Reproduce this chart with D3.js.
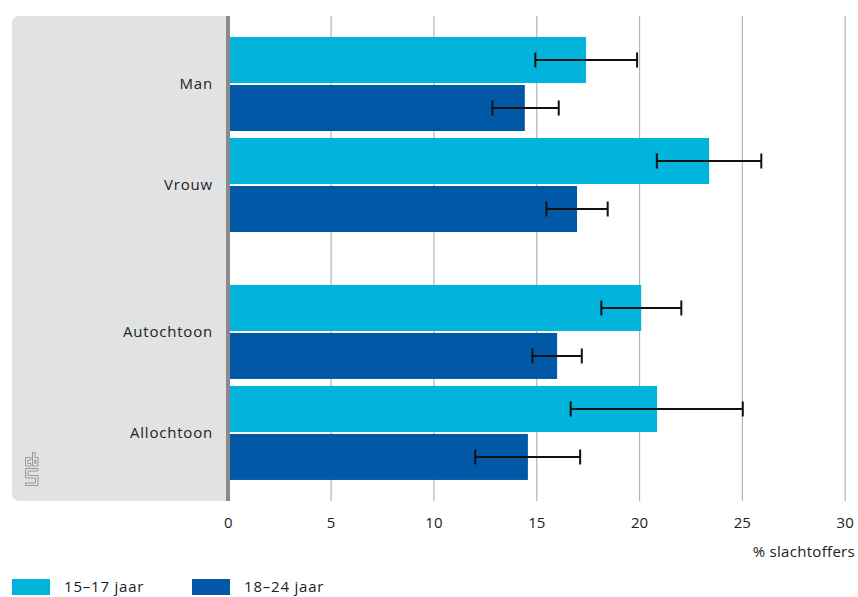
<!DOCTYPE html>
<html>
<head>
<meta charset="utf-8">
<script src="https://cdn.jsdelivr.net/npm/d3@7"></script>
<style>
  html, body { margin: 0; padding: 0; background: #fff; }
  svg { display: block; }
  text { font-family: "Open Sans", "Noto Sans", sans-serif; }
</style>
</head>
<body>
<svg id="chart" width="858" height="597"></svg>
<script>
// ---- data ----
const categories = ["Man", "Vrouw", "Autochtoon", "Allochtoon"];
const sections = [0, 0, 1, 1];            // grouping (gap between groups)
const seriesNames = ["15–17 jaar", "18–24 jaar"];
const values1517 = [17.4, 23.38, 20.08, 20.85];
const values1824 = [14.42, 16.96, 15.99, 14.57];
const low1517  = [14.93, 20.84, 18.14, 16.65];
const high1517 = [19.88, 25.92, 22.03, 25.02];
const low1824  = [12.84, 15.47, 14.79, 12.01];
const high1824 = [16.07, 18.45, 17.19, 17.11];
const xTicks = [0, 5, 10, 15, 20, 25, 30];
const xLabel = "% slachtoffers";
const colors = ["#00b4dc", "#0058a6"];

// ---- layout ----
const svg = d3.select("#chart");
const panel = {x0: 12, x1: 226, y0: 16, y1: 501};
const x = d3.scaleLinear().domain([0, 30]).range([228.3, 845.2]);
const sectionGap = 0.455;
const slot = categories.map((c, i) => i + sections[i] * sectionGap);
const y = d3.scaleLinear().domain([0, 1]).range([37, 138]);
const barH = 46, pairGap = 2;

// grey panel with rounded left corners
const r = 8;
svg.append("path")
  .attr("d", `M${panel.x1},${panel.y0} L${panel.x0 + r},${panel.y0} Q${panel.x0},${panel.y0} ${panel.x0},${panel.y0 + r}
    L${panel.x0},${panel.y1 - r} Q${panel.x0},${panel.y1} ${panel.x0 + r},${panel.y1} L${panel.x1},${panel.y1} Z`)
  .attr("fill", "#e1e2e4");

// gridlines
svg.append("g").selectAll("line").data(xTicks.filter(d => d > 0)).join("line")
  .attr("x1", d => x(d)).attr("x2", d => x(d))
  .attr("y1", panel.y0).attr("y2", panel.y1)
  .attr("stroke", "#b4b4b4").attr("stroke-width", 1.2);

// bars
const rows = [];
categories.forEach((c, i) => {
  rows.push({cat: c, s: 0, v: values1517[i], lo: low1517[i], hi: high1517[i], top: y(slot[i])});
  rows.push({cat: c, s: 1, v: values1824[i], lo: low1824[i], hi: high1824[i], top: y(slot[i]) + barH + pairGap});
});
svg.append("g").selectAll("rect").data(rows).join("rect")
  .attr("x", x(0)).attr("y", d => d.top)
  .attr("width", d => x(d.v) - x(0)).attr("height", barH)
  .attr("fill", d => colors[d.s]);

// error bars
const eb = svg.append("g").attr("stroke", "#111").attr("stroke-width", 2);
rows.forEach(d => {
  const cy = d.top + barH / 2;
  eb.append("line").attr("x1", x(d.lo)).attr("x2", x(d.hi)).attr("y1", cy).attr("y2", cy);
  eb.append("line").attr("x1", x(d.lo)).attr("x2", x(d.lo)).attr("y1", cy - 7.5).attr("y2", cy + 7.5);
  eb.append("line").attr("x1", x(d.hi)).attr("x2", x(d.hi)).attr("y1", cy - 7.5).attr("y2", cy + 7.5);
});

// zero axis line
svg.append("line")
  .attr("x1", 228).attr("x2", 228)
  .attr("y1", panel.y0).attr("y2", panel.y1)
  .attr("stroke", "#8a8a8a").attr("stroke-width", 4);

// category labels
svg.append("g").selectAll("text").data(categories).join("text")
  .attr("x", 213).attr("y", (d, i) => y(slot[i]) + barH + pairGap / 2)
  .attr("dy", "0.35em").attr("text-anchor", "end")
  .attr("font-size", 15).attr("letter-spacing", 0.8).attr("fill", "#222")
  .text(d => d);

// x tick labels
svg.append("g").selectAll("text").data(xTicks).join("text")
  .attr("x", d => x(d)).attr("y", 523).attr("dy", "0.35em")
  .attr("text-anchor", "middle").attr("font-size", 15).attr("fill", "#222")
  .text(d => d);

svg.append("text").attr("x", 855).attr("y", 552).attr("dy", "0.35em")
  .attr("text-anchor", "end").attr("font-size", 15).attr("letter-spacing", 0.3).attr("fill", "#222")
  .text(xLabel);

// legend
const legX = [12, 192];
const lg = svg.append("g").selectAll("g").data(seriesNames).join("g")
  .attr("transform", (d, i) => `translate(${legX[i]},579)`);
lg.append("rect").attr("width", 38).attr("height", 16).attr("fill", (d, i) => colors[i]);
lg.append("text").attr("x", 52).attr("y", 8).attr("dy", "0.35em")
  .attr("font-size", 15).attr("letter-spacing", 0.8).attr("fill", "#222").text(d => d);

// cbs logo (simplified outline letterforms)
const logo = svg.append("g").attr("transform", "translate(25,452)")
  .attr("fill", "none").attr("stroke", "#9a9a9a").attr("stroke-width", 1);
logo.append("path").attr("d", "M6,5.5 H0.5 V14 H6 V11.5 H2.8 V8 H6 Z");
logo.append("path").attr("fill-rule", "evenodd")
  .attr("d", "M7.5,0.5 H10 V5.5 H13 V14 H7.5 Z M9.8,8 H10.8 V11.5 H9.8 Z");
logo.append("path").attr("d", "M0.5,16.5 H13 V19 H3 V23.5 H13 V33.5 H0.5 V31 H10.5 V26 H0.5 Z");
</script>
</body>
</html>
